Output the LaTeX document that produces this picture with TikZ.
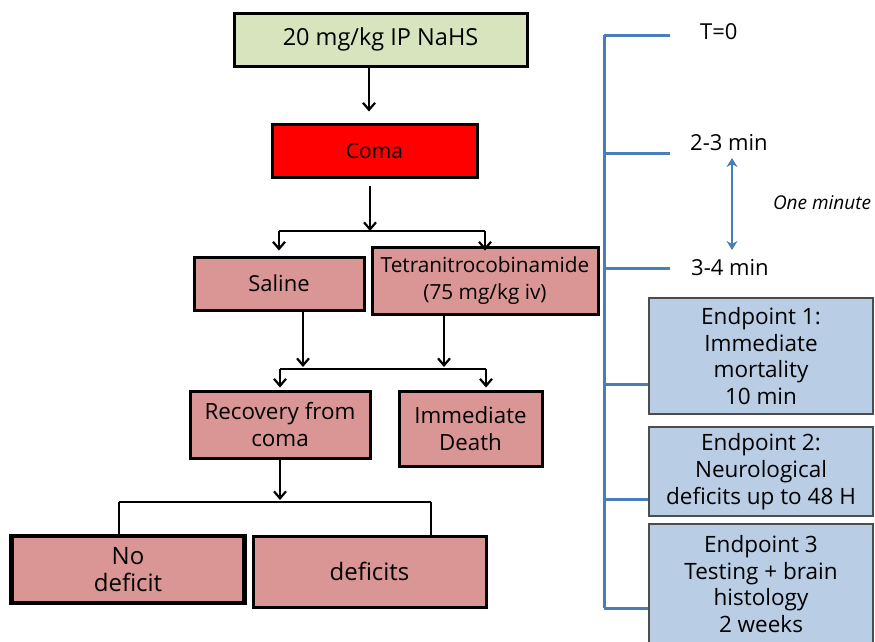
\documentclass[tikz,border=0pt]{standalone}
\usepackage{fontspec}
\setmainfont{Open Sans}
\usetikzlibrary{arrows.meta}
\definecolor{cgreen}{HTML}{D7E4BD}
\definecolor{cred}{HTML}{FF0000}
\definecolor{cpink}{HTML}{D99694}
\definecolor{cbluebox}{HTML}{B9CDE5}
\definecolor{cblueline}{HTML}{4A7EBB}
\newcommand{\fs}[2]{\fontsize{#1}{#2}\selectfont}
\tikzset{
  box/.style={draw=black, line width=3pt, inner sep=1pt, align=center, font=\fs{22.4}{27.5}},
  epbox/.style={draw=black!70, line width=1.2pt, fill=cbluebox, inner sep=1pt, align=center, minimum width=224pt, font=\fs{22.5}{26.7}},
  arr/.style={line width=2.2pt, -{Straight Barb[length=7pt,width=12pt,line width=2.2pt]}},
  link/.style={line width=2.2pt},
  tl/.style={draw=cblueline, line width=3pt},
  tlab/.style={font=\fs{22}{24}, inner sep=0pt}
}
\begin{document}
\begin{tikzpicture}[x=1pt,y=-1pt]
\useasboundingbox (0,0) rectangle (875,641);
% left flow
\node[box, fill=cgreen, minimum width=293pt, minimum height=53pt, font=\fs{23.5}{26}] (top) at (380.5,39.5) {20 mg/kg IP NaHS};
\node[box, fill=cred, minimum width=205pt, minimum height=53pt, font=\fs{21}{24}] (coma) at (374.5,150.5) {Coma};
\node[box, fill=cpink, minimum width=170pt, minimum height=53pt, font=\fs{22}{26}] (saline) at (279,283.5) {Saline};
\node[box, fill=cpink, minimum width=226pt, minimum height=67pt, font=\fs{20.8}{27}] (tetra) at (485,280.5) {Tetranitrocobinamide\\(75 mg/kg iv)};
\node[box, fill=cpink, minimum width=180pt, minimum height=67pt] (recov) at (280,424.5) {Recovery from\\coma};
\node[box, fill=cpink, minimum width=143pt, minimum height=75pt, font=\fs{22.3}{26.7}] (death) at (470.5,428.5) {Immediate\\Death};
\node[box, fill=cpink, line width=4.2pt, minimum width=233pt, minimum height=67pt, font=\fs{24}{27.3}] (nodef) at (128,569.5) {No\\deficit};
\node[box, fill=cpink, minimum width=233pt, minimum height=71pt, font=\fs{24}{27.3}] (defs) at (369.5,571.5) {deficits};

\coordinate (b1) at (370,231);
\coordinate (b2) at (280,369);
\coordinate (b3) at (280,502);

\draw[arr] ([xshift=-11.5pt]top.south) -- ([xshift=-5.5pt,yshift=11pt]coma.north);
\draw[arr] ([xshift=-4.5pt,yshift=-7pt]coma.south) -- (b1);
\draw[link] (b1 -| saline.north) -- (b1 -| tetra.north);
\draw[arr] (b1 -| saline.north) -- ([yshift=5pt]saline.north);
\draw[arr] (b1 -| tetra.north) -- ([yshift=-5pt]tetra.north);

\draw[arr] ([xshift=24pt]saline.south) -- ([xshift=24pt,yshift=2pt]b2 -| saline.south);
\draw[arr] ([xshift=-41pt]tetra.south) -- ([xshift=-41pt,yshift=2pt]b2 -| tetra.south);
\draw[link] (b2 -| recov.north) -- ([xshift=15.5pt]b2 -| death.north);
\draw[arr] (b2 -| recov.north) -- ([yshift=2pt]recov.north);
\draw[arr] ([xshift=15.5pt]b2 -| death.north) -- ([xshift=15.5pt,yshift=2pt]death.north);

\draw[arr] (recov.south) -- ([yshift=2pt]b3);
\draw[link] ([xshift=-9pt]b3 -| nodef.north) -- ([xshift=61.5pt]b3 -| defs.north);
\draw[link] ([xshift=-9pt]b3 -| nodef.north) -- ([xshift=-9pt]nodef.north);
\draw[link] ([xshift=61.5pt]b3 -| defs.north) -- ([xshift=61.5pt]defs.north);

% timeline
\node[tlab, anchor=west] (t0) at (700,32) {T=0};
\node[tlab, anchor=west] (t23) at (690,143) {2-3 min};
\node[tlab, anchor=west] (t34) at (691,268) {3-4 min};
\node[font=\itshape\fs{19}{22}, inner sep=0pt] (onemin) at (822,203) {One minute};
\node[epbox, minimum height=116pt] (ep1) at (761,356) {Endpoint 1:\\Immediate\\mortality\\10 min};
\node[epbox, minimum height=89pt] (ep2) at (761,471.5) {Endpoint 2:\\Neurological\\deficits up to 48 H};
\node[epbox, minimum height=120pt] (ep3) at (761,584) {Endpoint 3\\Testing + brain\\histology\\2 weeks};

\coordinate (v0) at (604,35);
\coordinate (v1) at (604,608);
\draw[tl] (v0) -- (v1);
\draw[tl] (v0) -- (670,35);
\draw[tl] (604,153) -- (670,153);
\draw[tl] (604,268) -- (670,268);
\draw[tl] (604,384) -- (ep1.west |- 0,384);
\draw[tl] (604,499) -- (ep2.west |- 0,499);
\draw[tl] (v1) -- (ep3.west |- v1);
\draw[draw=cblueline, line width=2.6pt, {Stealth[length=9pt,width=11pt]}-{Stealth[length=9pt,width=11pt]}] (732,158) -- (732,250);
\end{tikzpicture}
\end{document}
